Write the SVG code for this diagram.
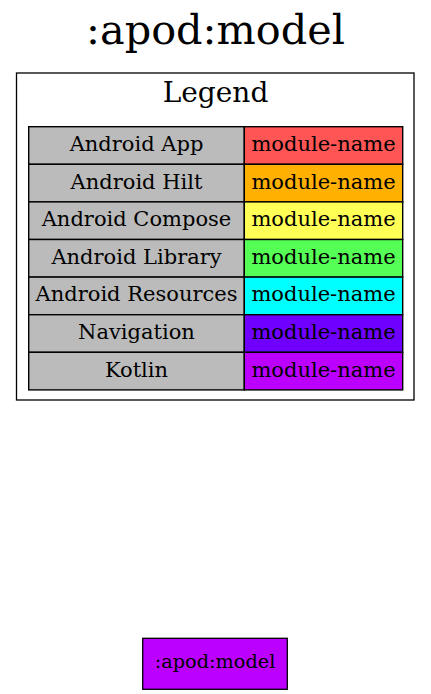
<svg xmlns="http://www.w3.org/2000/svg" width="431" height="694" viewBox="0 0 431 694">
<style>
text{font-family:"DejaVu Serif","Liberation Serif",serif;fill:#000;text-anchor:middle}
.t{font-size:21px}
.c{stroke:#000;stroke-width:1.4}
.k{fill:#bbbbbb}
</style>
<rect width="431" height="694" fill="#fff"/>
<text x="215.5" y="44.3" style="font-size:41.4px">:apod:model</text>
<g id="legend">
<rect x="16.5" y="73" width="397.5" height="327" fill="none" stroke="#000" stroke-width="1.3"/>
<text x="215.5" y="101.7" style="font-size:28px">Legend</text>
<g id="row1"><rect class="c k" x="28.7" y="126.7" width="215.6" height="37.6"/><rect class="c" fill="#ff5555" x="244.3" y="126.7" width="158.4" height="37.6"/><text class="t" x="136.5" y="151">Android App</text><text class="t" x="323.5" y="151">module-name</text></g>
<g id="row2"><rect class="c k" x="28.7" y="164.3" width="215.6" height="37.6"/><rect class="c" fill="#ffb000" x="244.3" y="164.3" width="158.4" height="37.6"/><text class="t" x="136.5" y="188.6">Android Hilt</text><text class="t" x="323.5" y="188.6">module-name</text></g>
<g id="row3"><rect class="c k" x="28.7" y="201.9" width="215.6" height="37.6"/><rect class="c" fill="#ffff55" x="244.3" y="201.9" width="158.4" height="37.6"/><text class="t" x="136.5" y="226.2">Android Compose</text><text class="t" x="323.5" y="226.2">module-name</text></g>
<g id="row4"><rect class="c k" x="28.7" y="239.5" width="215.6" height="37.6"/><rect class="c" fill="#55ff55" x="244.3" y="239.5" width="158.4" height="37.6"/><text class="t" x="136.5" y="263.8">Android Library</text><text class="t" x="323.5" y="263.8">module-name</text></g>
<g id="row5"><rect class="c k" x="28.7" y="277.1" width="215.6" height="37.6"/><rect class="c" fill="#00ffff" x="244.3" y="277.1" width="158.4" height="37.6"/><text class="t" x="136.5" y="301.4">Android Resources</text><text class="t" x="323.5" y="301.4">module-name</text></g>
<g id="row6"><rect class="c k" x="28.7" y="314.7" width="215.6" height="37.6"/><rect class="c" fill="#6f00ff" x="244.3" y="314.7" width="158.4" height="37.6"/><text class="t" x="136.5" y="339">Navigation</text><text class="t" x="323.5" y="339">module-name</text></g>
<g id="row7"><rect class="c k" x="28.7" y="352.3" width="215.6" height="37.6"/><rect class="c" fill="#bb00ff" x="244.3" y="352.3" width="158.4" height="37.6"/><text class="t" x="136.5" y="376.6">Kotlin</text><text class="t" x="323.5" y="376.6">module-name</text></g>
</g>
<g id="connectors"></g>
<g id="node-apod-model">
<rect x="142.7" y="638.3" width="144.6" height="51" fill="#bb00ff" stroke="#000" stroke-width="1.3"/>
<text x="215" y="668.3" style="font-size:19.3px">:apod:model</text>
</g>
</svg>
